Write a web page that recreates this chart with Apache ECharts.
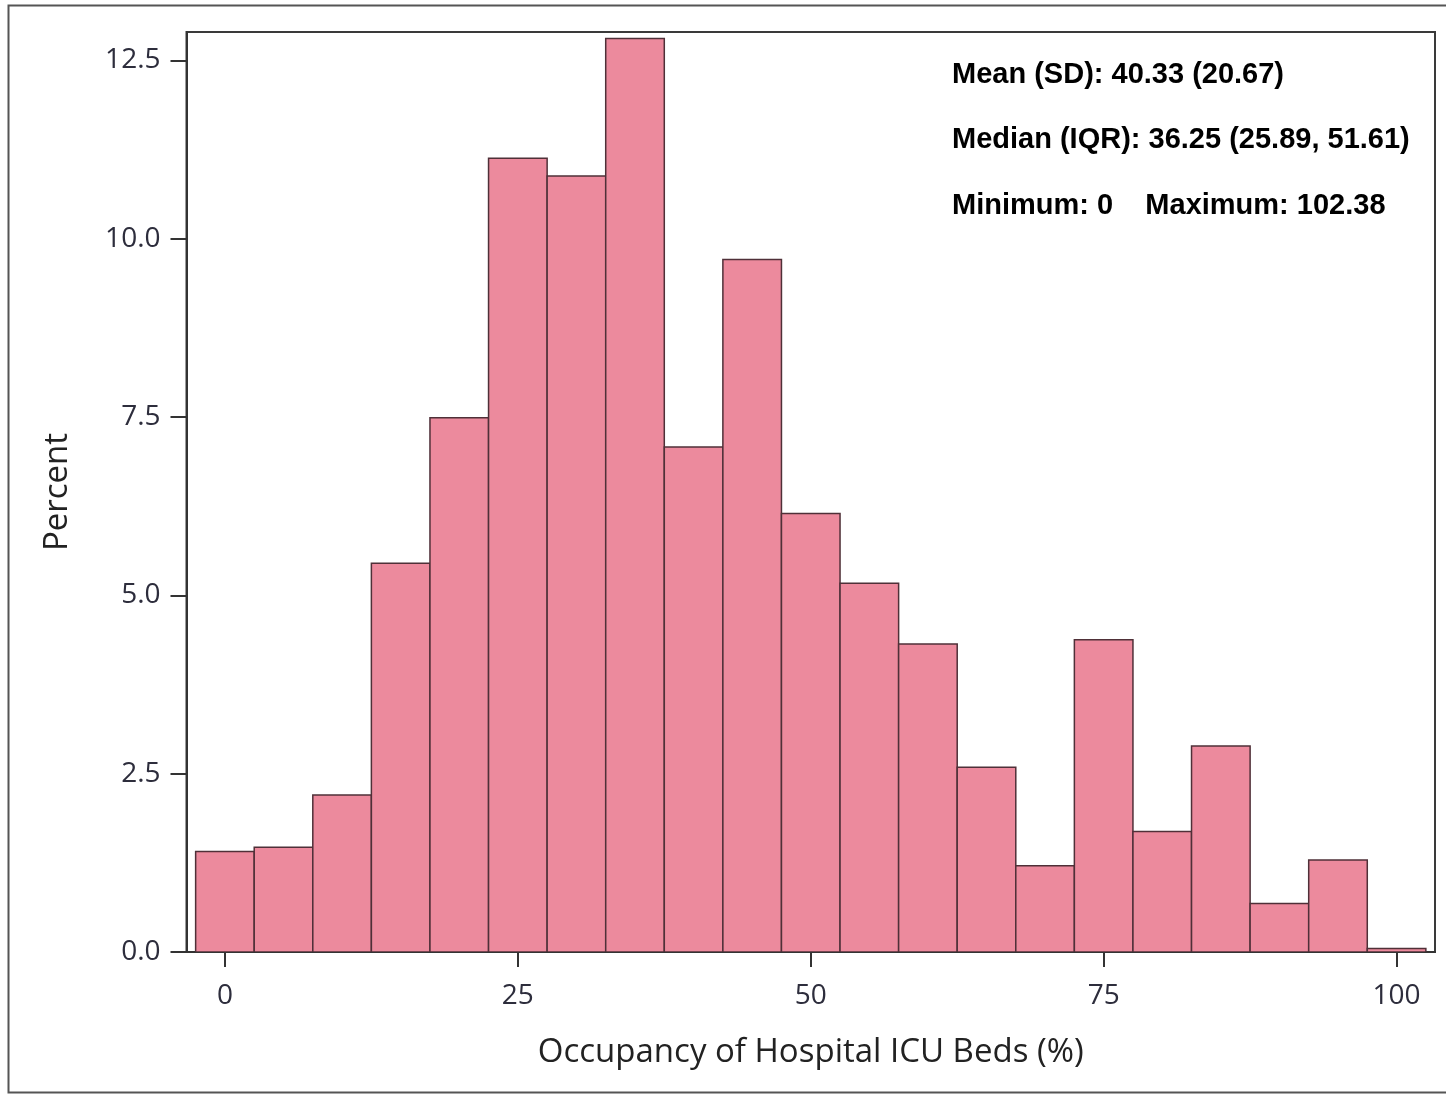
<!DOCTYPE html>
<html>
<head>
<meta charset="utf-8">
<title>Occupancy of Hospital ICU Beds</title>
<script src="https://cdn.jsdelivr.net/npm/echarts@6/dist/echarts.min.js"></script>
<style>
  html, body { margin: 0; padding: 0; background: #ffffff; }
  #chart { width: 1446px; height: 1094px; }
</style>
</head>
<body>
<div id="chart"></div>
<script>
// Histogram bins: centre of each 5-point bin and the share of hospitals in it (%)
const binCenters = [0, 5, 10, 15, 20, 25, 30, 35, 40, 45, 50, 55, 60, 65, 70, 75, 80, 85, 90, 95, 100];
const binPercent = [1.41, 1.47, 2.20, 5.45, 7.49, 11.13, 10.88, 12.81, 7.08, 9.71, 6.15, 5.17, 4.32, 2.59, 1.21, 4.38, 1.69, 2.89, 0.68, 1.29, 0.05];
const binWidth = 5;

// Axis tick values
const xTicks = [0, 25, 50, 75, 100];
const yTicks = [0, 2.5, 5, 7.5, 10, 12.5];

// Summary statistics shown in the upper right
const statLines = [
  'Mean (SD): 40.33 (20.67)',
  'Median (IQR): 36.25 (25.89, 51.61)',
  'Minimum: 0    Maximum: 102.38'
];

const chart = echarts.init(document.getElementById('chart'), null, { renderer: 'canvas' });

const tickFont = { fontFamily: 'Open Sans', fontSize: 28, color: '#2d2d3c' };
const nameFont = { fontFamily: 'Open Sans', fontSize: 33, color: '#222222' };

const option = {
  backgroundColor: '#ffffff',
  animation: false,
  grid: {
    left: 186.5, top: 32, right: 11, bottom: 142,
    show: true, borderColor: '#3a3a3a', borderWidth: 2, backgroundColor: 'transparent'
  },
  xAxis: {
    type: 'value',
    min: -3.28, max: 103.28,
    name: 'Occupancy of Hospital ICU Beds (%)',
    nameLocation: 'middle',
    nameGap: 84,
    nameTextStyle: nameFont,
    axisLine: { show: true, onZero: false, lineStyle: { color: '#333333', width: 2 } },
    axisTick: { show: true, customValues: xTicks, length: 15, lineStyle: { color: '#333333', width: 2 } },
    axisLabel: { show: true, customValues: xTicks, margin: 30, ...tickFont },
    splitLine: { show: false }
  },
  yAxis: {
    type: 'value',
    min: 0, max: 12.9,
    name: 'Percent',
    nameLocation: 'middle',
    nameGap: 112,
    nameTextStyle: nameFont,
    axisLine: { show: true, onZero: false, lineStyle: { color: '#333333', width: 2 } },
    axisTick: { show: true, customValues: yTicks, length: 16, lineStyle: { color: '#333333', width: 2 } },
    axisLabel: {
      show: true, customValues: yTicks, margin: 26, ...tickFont,
      formatter: v => Number(v).toFixed(1)
    },
    splitLine: { show: false }
  },
  series: [{
    type: 'custom',
    data: binCenters.map((c, i) => [c, binPercent[i]]),
    encode: { x: 0, y: 1 },
    clip: true,
    renderItem: function (params, api) {
      const center = api.value(0);
      const pct = api.value(1);
      const topLeft = api.coord([center - binWidth / 2, pct]);
      const bottomRight = api.coord([center + binWidth / 2, 0]);
      return {
        type: 'rect',
        shape: {
          x: topLeft[0],
          y: topLeft[1],
          width: bottomRight[0] - topLeft[0],
          height: bottomRight[1] - topLeft[1]
        },
        style: { fill: '#ec8a9d', stroke: '#4f3038', lineWidth: 1.5 }
      };
    }
  }],
  graphic: [
    {
      type: 'rect',
      silent: true,
      shape: { x: 8.5, y: 5.5, width: 1460, height: 1087 },
      style: { fill: 'none', stroke: '#555555', lineWidth: 2 }
    },
    ...statLines.map((t, i) => ({
      type: 'text',
      left: 952,
      top: 60 + i * 65.5,
      style: {
        text: t,
        fontFamily: 'Liberation Sans, Arial, sans-serif',
        fontWeight: 'bold',
        fontSize: 29,
        fill: '#000000'
      }
    }))
  ]
};

chart.setOption(option);
</script>
</body>
</html>
